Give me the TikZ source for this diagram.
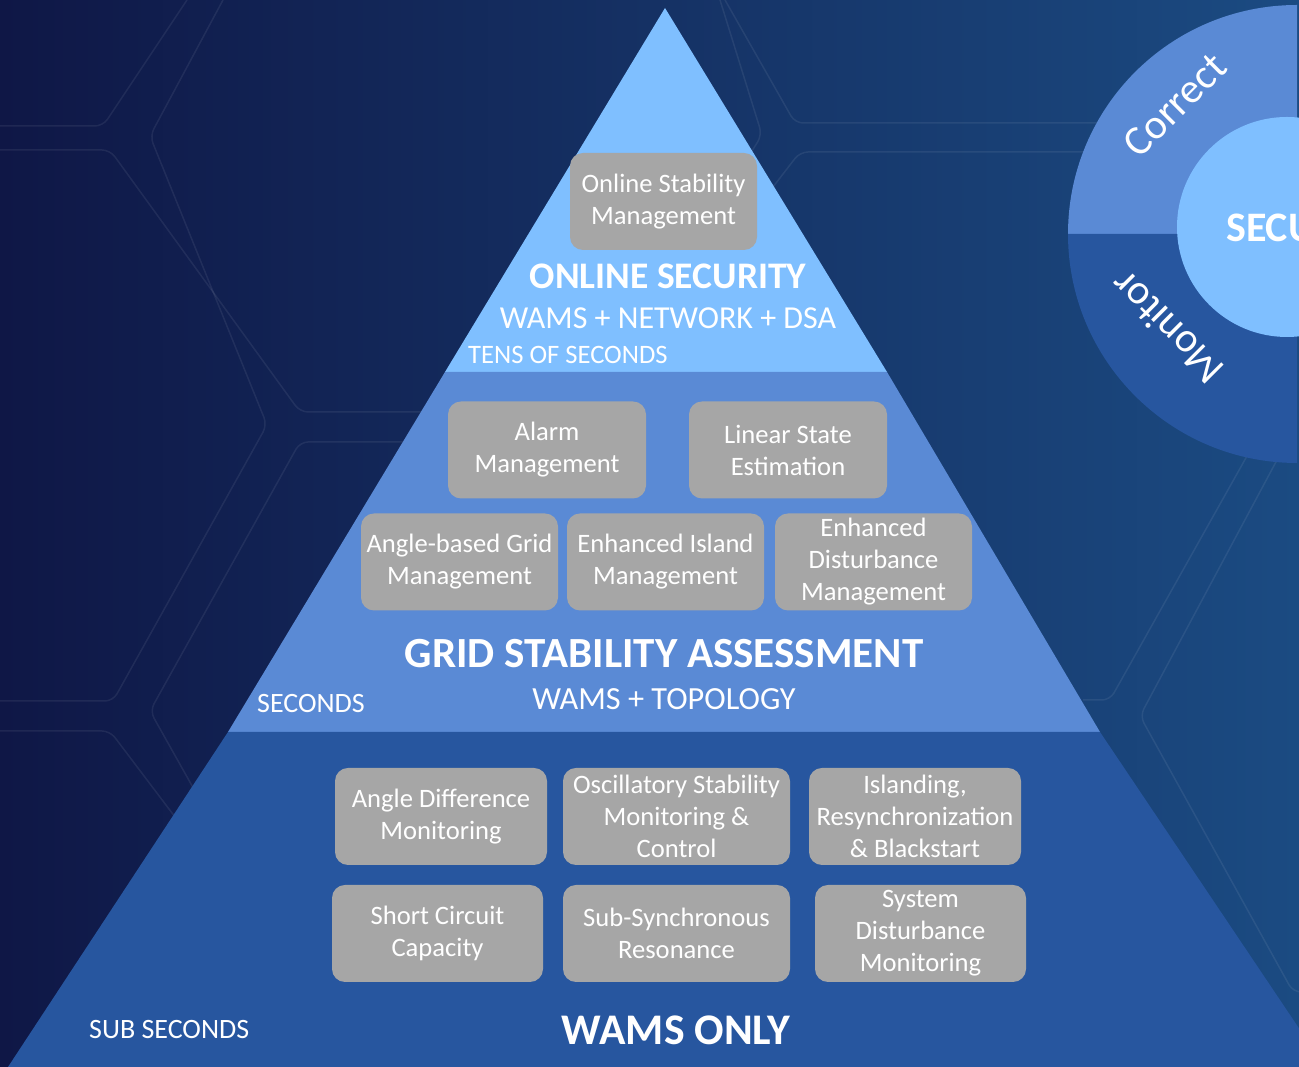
\documentclass[tikz,border=0pt]{standalone}
\usepackage{fontspec}
\setmainfont{Carlito}
\usepackage{xcolor}
\usepackage{tikz}

\definecolor{navyleft}{HTML}{0F1746}
\definecolor{navyright}{HTML}{1B4B82}
\definecolor{tiertop}{HTML}{7FBFFF}
\definecolor{tiermid}{HTML}{5A8AD5}
\definecolor{tierlow}{HTML}{27569F}
\definecolor{cellgray}{HTML}{A6A6A6}

\begin{document}
\begin{tikzpicture}[
    x=1pt, y=1pt,
    cell/.style={rectangle, rounded corners=13pt, fill=cellgray, text=white, align=center, minimum height=97pt, inner sep=2pt, font=\fontsize{26.6}{32}\selectfont},
    bigtext/.style={text=white, inner sep=0pt, font=\bfseries\fontsize{#1}{#1}\selectfont},
    smalltext/.style={text=white, inner sep=0pt, font=\fontsize{#1}{#1}\selectfont},
    hexline/.style={white, opacity=0.07, line width=1.5pt, rounded corners=8pt}
]
    \clip (0,0) rectangle (1299,1067);

    % Background
    \shade[left color=navyleft, right color=navyright] (0,0) rectangle (1299,1067);
    \draw[hexline] (0,941) -- (103,941) -- (187,1067);
    \draw[hexline] (0,917) -- (110,917) -- (300,655) -- (460,655);
    \draw[hexline] (223,1067) -- (150,931) -- (267,642) -- (113,366) -- (0,366);
    \draw[hexline] (460,625) -- (300,625) -- (150,356) -- (200,267);
    \draw[hexline] (0,336) -- (110,336) -- (200,217);
    \draw[hexline] (720,1067) -- (762,932) -- (740,897);
    \draw[hexline] (725,1067) -- (795,944) -- (1100,944);
    \draw[hexline] (773,880) -- (800,915) -- (1100,915);
    \draw[hexline] (1247,611) -- (1110,367) -- (1083,367);
    \draw[hexline] (1277,607) -- (1140,351) -- (1293,75) -- (1310,75);

    % Pyramid tiers
    \fill[tiertop] (665,1059) -- (887,695) -- (445,695) -- cycle;
    \fill[tiermid] (445,695) -- (887,695) -- (1100,335) -- (228,335) -- cycle;
    \fill[tierlow] (228,335) -- (1100,335) -- (1325,0) -- (8,0) -- cycle;

    % Security wheel
    \fill[tiermid] (1297,833) -- (1068,833) arc[start angle=180, end angle=90, radius=229] -- cycle;
    \fill[tierlow] (1297,833) -- (1068,833) arc[start angle=180, end angle=270, radius=229] -- cycle;
    \node[circle, fill=tiertop, minimum size=220pt, inner sep=0pt] (hub) at (1287,840) {};
    \node[bigtext=42, anchor=west] (hubtext) at (1226,839) {SECU};
    \node[smalltext=42, rotate=45] (correct) at (1175,962) {Correct};
    \node[smalltext=42, rotate=135] (monitor) at (1167,739) {Monitor};

    % Top tier - Online security
    \node[cell, minimum width=187pt] (osm) at (663.5,865.5) {Online Stability\\Management};
    \node[bigtext=37.5] (online) at (668,791) {ONLINE SECURITY};
    \node[smalltext=32] (onlinesrc) at (668,749) {WAMS + NETWORK + DSA};
    \node[smalltext=26.6, anchor=west] (tens) at (468,712) {TENS OF SECONDS};

    % Middle tier - Grid stability assessment
    \node[cell, minimum width=198pt] (alarm) at (547,617) {Alarm\\Management};
    \node[cell, minimum width=198pt] (lse) at (788,617) {Linear State\\Estimation};
    \node[cell, minimum width=197pt] (angle) at (459.5,505) {Angle-based Grid\\Management};
    \node[cell, minimum width=197pt] (island) at (665.5,505) {Enhanced Island\\Management};
    \node[cell, minimum width=197pt] (disturb) at (873.5,505) {Enhanced\\Disturbance\\Management};
    \node[bigtext=43] (grid) at (664,413) {GRID STABILITY ASSESSMENT};
    \node[smalltext=32.3] (gridsrc) at (664,368) {WAMS + TOPOLOGY};
    \node[smalltext=28, anchor=west] (secs) at (257,363) {SECONDS};

    % Bottom tier - WAMS only
    \node[cell, minimum width=212pt] (angdiff) at (441,250.5) {Angle Difference\\Monitoring};
    \node[cell, minimum width=227pt] (osc) at (676.5,250.5) {Oscillatory Stability\\Monitoring \&\\Control};
    \node[cell, minimum width=212pt] (islanding) at (915,250.5) {Islanding,\\Resynchronization\\\& Blackstart};
    \node[cell, minimum width=211pt] (shortc) at (437.5,133.5) {Short Circuit\\Capacity};
    \node[cell, minimum width=227pt] (ssr) at (676.5,133.5) {Sub-Synchronous\\Resonance};
    \node[cell, minimum width=211pt] (sysdist) at (920.5,133.5) {System\\Disturbance\\Monitoring};
    \node[bigtext=43.7] (wams) at (676,37) {WAMS ONLY};
    \node[smalltext=28, anchor=west] (subsecs) at (89,37) {SUB SECONDS};
\end{tikzpicture}
\end{document}
